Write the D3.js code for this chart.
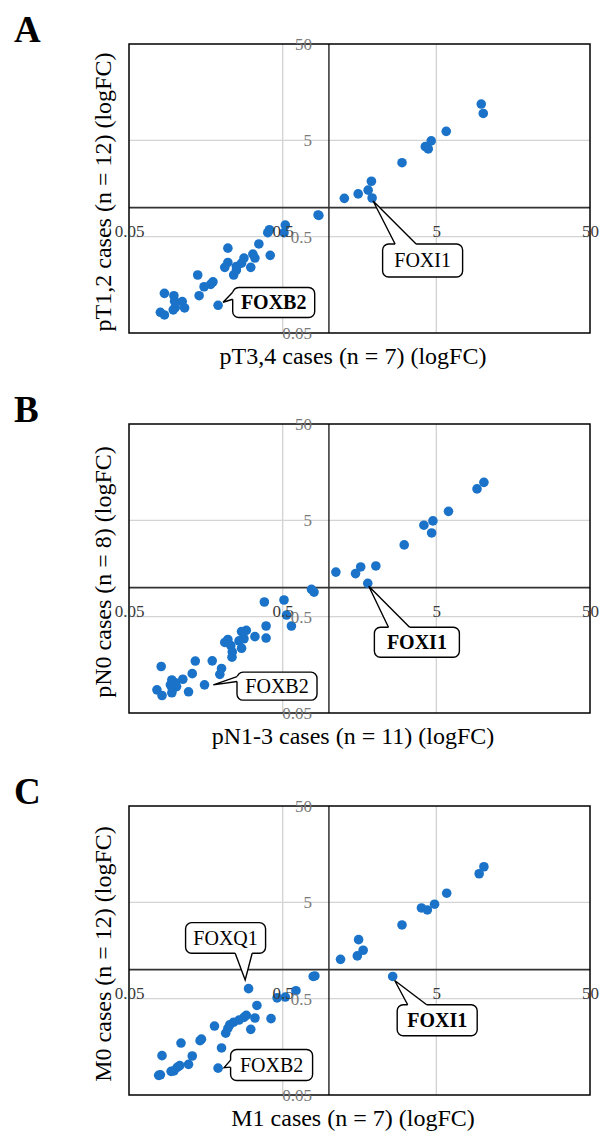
<!DOCTYPE html>
<html>
<head>
<meta charset="utf-8">
<script src="https://cdn.jsdelivr.net/npm/d3@7"></script>
<style>
	body { margin: 0; background: #fff; }
</style>
</head>
<body>
<div id="chart"></div>
<script>
'use strict';
(function(){

	// ---- data (fold changes) ----
	var tickValues = [0.05, 0.5, 5, 50];
	var panelLetters = ['A', 'B', 'C'];
	var xTitles = ['pT3,4 cases (n = 7) (logFC)', 'pN1-3 cases (n = 11) (logFC)', 'M1 cases (n = 7) (logFC)'];
	var yTitles = ['pT1,2 cases (n = 12) (logFC)', 'pN0 cases (n = 8) (logFC)', 'M0 cases (n = 12) (logFC)'];

	// labelled genes come first in each series
	var aGenes = ['FOXI1', 'FOXB2'];
	var aBold = ['FOXB2'];
	var aX = [1.91, 0.19,
		9.8, 10.1, 5.8, 4.63, 4.24, 4.43, 2.99, 1.89, 1.80, 1.55, 1.26, 0.85, 0.86, 0.52, 0.51, 0.41, 0.40, 0.35,
		0.415, 0.22, 0.32, 0.33, 0.28, 0.27, 0.31, 0.25, 0.22, 0.21, 0.24, 0.25, 0.14, 0.176, 0.17, 0.154, 0.143,
		0.085, 0.098, 0.099, 0.111, 0.115, 0.10, 0.097, 0.080, 0.085];
	var aY = [1.26, 0.097,
		11.9, 9.5, 6.2, 4.93, 4.30, 4.07, 2.93, 1.88, 1.52, 1.39, 1.25, 0.84, 0.83, 0.66, 0.55, 0.59, 0.55, 0.42,
		0.32, 0.38, 0.33, 0.30, 0.30, 0.265, 0.24, 0.245, 0.27, 0.24, 0.20, 0.225, 0.20, 0.17, 0.16, 0.151, 0.122,
		0.129, 0.122, 0.107, 0.106, 0.091, 0.092, 0.087, 0.082, 0.077];

	var bGenes = ['FOXI1', 'FOXB2'];
	var bBold = ['FOXI1'];
	var bX = [1.79, 0.155,
		10.2, 9.2, 6.0, 4.75, 4.15, 4.66, 3.09, 2.02, 1.61, 1.49, 1.11, 0.77, 0.80, 0.38, 0.51, 0.53, 0.57, 0.39,
		0.39, 0.33, 0.29, 0.27, 0.28, 0.26, 0.27, 0.22, 0.21, 0.23, 0.235, 0.234, 0.135, 0.174, 0.20, 0.195, 0.129,
		0.081, 0.112, 0.122, 0.095, 0.10, 0.093, 0.102, 0.096, 0.076, 0.082, 0.095];
	var bY = [1.11, 0.098,
		12.4, 10.6, 6.2, 4.93, 4.45, 3.70, 2.78, 1.68, 1.64, 1.40, 1.45, 0.96, 0.90, 0.71, 0.745, 0.52, 0.40, 0.40,
		0.30, 0.31, 0.36, 0.35, 0.295, 0.28, 0.235, 0.29, 0.27, 0.25, 0.215, 0.19, 0.173, 0.174, 0.145, 0.126, 0.128,
		0.152, 0.112, 0.083, 0.11, 0.103, 0.098, 0.094, 0.088, 0.087, 0.076, 0.081];

	var cGenes = ['FOXI1', 'FOXB2', 'FOXQ1'];
	var cBold = ['FOXI1'];
	var cX = [2.60, 0.19, 0.30,
		10.2, 9.5, 5.84, 4.87, 4.0, 4.37, 2.99, 1.56, 1.67, 1.53, 1.19, 0.81, 0.79, 0.61, 0.52, 0.46, 0.34, 0.42,
		0.33, 0.29, 0.28, 0.26, 0.24, 0.226, 0.22, 0.213, 0.31, 0.18, 0.145, 0.148, 0.109, 0.20, 0.129, 0.082,
		0.122, 0.107, 0.103, 0.098, 0.094, 0.080, 0.078];
	var cY = [0.85, 0.095, 0.635,
		11.7, 9.9, 6.22, 4.78, 4.37, 4.17, 2.91, 2.05, 1.59, 1.39, 1.28, 0.86, 0.85, 0.605, 0.52, 0.51, 0.425, 0.31,
		0.315, 0.335, 0.32, 0.30, 0.285, 0.267, 0.246, 0.219, 0.24, 0.26, 0.183, 0.19, 0.173, 0.154, 0.127, 0.128,
		0.104, 0.101, 0.097, 0.089, 0.088, 0.081, 0.080];

	// ---- layout ----
	var width = 600, height = 1132;
	var panelTop = [0, 380, 762];
	var plotLeft = 129, plotRight = 590, plotTop = 44, plotBottom = 333;
	var font = '"Liberation Serif", "Times New Roman", Times, serif';
	var dotColor = '#1a73c8';

	// callout boxes, offsets in px from the labelled point
	var callouts = {
		'A-FOXI1': { dx: 10.5, dy: 46, w: 80, h: 33, side: 'top', b1: 23, b2: 44, ax: 1, ay: 3 },
		'A-FOXB2': { dx: 14.6, dy: -17.8, w: 82, h: 30, side: 'left', b1: -13, b2: -6, ax: 5, ay: -3 },
		'B-FOXI1': { dx: 6.6, dy: 44, w: 85, h: 30, side: 'top', b1: 20.7, b2: 41.8, ax: 1, ay: 3 },
		'B-FOXB2': { dx: 32.5, dy: -12.7, w: 80, h: 28, side: 'left', b1: -8.3, b2: -3.3, ax: 8.8, ay: 0 },
		'C-FOXI1': { dx: 4.5, dy: 28.3, w: 80, h: 31, side: 'top', b1: 15, b2: 34, ax: 2, ay: 4 },
		'C-FOXB2': { dx: 12.5, dy: -18.7, w: 82, h: 31, side: 'left', b1: -8, b2: -1, ax: 6, ay: -0.5 },
		'C-FOXQ1': { dx: -63, dy: -66, w: 80, h: 30.6, side: 'bottom', b1: -13.4, b2: 3.6, ax: -3.4, ay: -8.7 }
	};

	var svg = d3.select('#chart')
		.append('svg')
		.attr('width', width)
		.attr('height', height)
		.style('font-family', font);

	var x = d3.scaleLog().domain([0.05, 50]).range([plotLeft, plotRight]);
	var y = d3.scaleLog().domain([0.05, 50]).range([plotBottom, plotTop]);

	function drawPanel(i, xs, ys, genes, boldGenes) {
		var letter = panelLetters[i];
		var g = svg.append('g').attr('transform', 'translate(0,' + panelTop[i] + ')');
		var points = xs.map(function (d, k) { return { x: d, y: ys[k], gene: genes[k] }; });

		// grid
		g.selectAll('.vgrid')
			.data(tickValues.slice(1, -1))
			.enter().append('line')
			.attr('x1', function (d) { return x(d); })
			.attr('x2', function (d) { return x(d); })
			.attr('y1', plotTop).attr('y2', plotBottom)
			.attr('stroke', '#d4d4d4').attr('stroke-width', 1.4);
		g.selectAll('.hgrid')
			.data(tickValues.slice(1, -1))
			.enter().append('line')
			.attr('y1', function (d) { return y(d); })
			.attr('y2', function (d) { return y(d); })
			.attr('x1', plotLeft).attr('x2', plotRight)
			.attr('stroke', '#d4d4d4').attr('stroke-width', 1.4);

		// axes crossing at 1
		g.append('line')
			.attr('x1', x(1)).attr('x2', x(1))
			.attr('y1', plotTop).attr('y2', plotBottom)
			.attr('stroke', '#111').attr('stroke-width', 1.3);
		g.append('line')
			.attr('x1', plotLeft).attr('x2', plotRight)
			.attr('y1', y(1)).attr('y2', y(1))
			.attr('stroke', '#333').attr('stroke-width', 1.8);

		// frame
		g.append('rect')
			.attr('x', plotLeft).attr('y', plotTop)
			.attr('width', plotRight - plotLeft).attr('height', plotBottom - plotTop)
			.attr('fill', 'none').attr('stroke', '#000').attr('stroke-width', 1.5);

		// points
		g.selectAll('circle')
			.data(points)
			.enter().append('circle')
			.attr('cx', function (d) { return x(d.x); })
			.attr('cy', function (d) { return y(d.y); })
			.attr('r', 4.8)
			.attr('fill', dotColor);

		// callouts
		points.filter(function (d) { return d.gene; }).forEach(function (d) {
			var c = callouts[letter + '-' + d.gene];
			var px = x(d.x), py = y(d.y);
			var bx = px + c.dx, by = py + c.dy;
			var apex = [px + c.ax, py + c.ay];
			var p1, p2, q1, q2;
			if (c.side === 'top') {
				p1 = [px + c.b1, by]; p2 = [px + c.b2, by];
				q1 = [p1[0], by + 2]; q2 = [p2[0], by + 2];
			} else if (c.side === 'bottom') {
				p1 = [px + c.b1, by + c.h]; p2 = [px + c.b2, by + c.h];
				q1 = [p1[0], by + c.h - 2]; q2 = [p2[0], by + c.h - 2];
			} else {
				p1 = [bx, py + c.b1]; p2 = [bx, py + c.b2];
				q1 = [bx + 2, p1[1]]; q2 = [bx + 2, p2[1]];
			}
			var cg = g.append('g');
			cg.append('rect')
				.attr('x', bx).attr('y', by)
				.attr('width', c.w).attr('height', c.h)
				.attr('rx', 6).attr('ry', 6)
				.attr('fill', '#fff').attr('stroke', '#000').attr('stroke-width', 1.4);
			cg.append('path')
				.attr('d', d3.line()([q1, p1, apex, p2, q2]) + 'Z')
				.attr('fill', '#fff').attr('stroke', 'none');
			cg.append('path')
				.attr('d', d3.line()([p1, apex, p2]))
				.attr('fill', 'none').attr('stroke', '#000').attr('stroke-width', 1.4)
				.attr('stroke-linejoin', 'miter');
			cg.append('text')
				.attr('x', bx + c.w / 2).attr('y', by + c.h / 2)
				.attr('dy', '0.35em')
				.attr('text-anchor', 'middle')
				.attr('font-size', 20)
				.attr('font-weight', boldGenes.indexOf(d.gene) >= 0 ? 'bold' : 'normal')
				.attr('fill', '#000')
				.text(d.gene);
		});

		// tick labels
		var xa = g.append('g')
			.attr('transform', 'translate(0,' + y(1) + ')')
			.call(d3.axisBottom(x).tickValues(tickValues).tickSize(0).tickPadding(17)
				.tickFormat(function (d) { return String(d); }));
		xa.select('.domain').remove();
		xa.attr('font-family', font).attr('font-size', 17);
		xa.selectAll('text').attr('fill', '#3a3a3a');

		var ya = g.append('g')
			.attr('transform', 'translate(' + x(1) + ',0)')
			.call(d3.axisLeft(y).tickValues(tickValues).tickSize(0).tickPadding(17)
				.tickFormat(function (d) { return String(d); }));
		ya.select('.domain').remove();
		ya.attr('font-family', font).attr('font-size', 17);
		ya.selectAll('text').attr('fill', '#7a7a7a');

		// titles
		g.append('text')
			.attr('x', 353).attr('y', 364)
			.attr('text-anchor', 'middle')
			.attr('font-size', 24)
			.text(xTitles[i]);
		g.append('text')
			.attr('transform', 'translate(111,192) rotate(-90)')
			.attr('text-anchor', 'middle')
			.attr('font-size', 24)
			.text(yTitles[i]);

		// panel letter
		g.append('text')
			.attr('x', 14).attr('y', 42)
			.attr('font-size', 37)
			.attr('font-weight', 'bold')
			.text(letter);
	}

	drawPanel(0, aX, aY, aGenes, aBold);
	drawPanel(1, bX, bY, bGenes, bBold);
	drawPanel(2, cX, cY, cGenes, cBold);

}());
</script>
</body>
</html>
